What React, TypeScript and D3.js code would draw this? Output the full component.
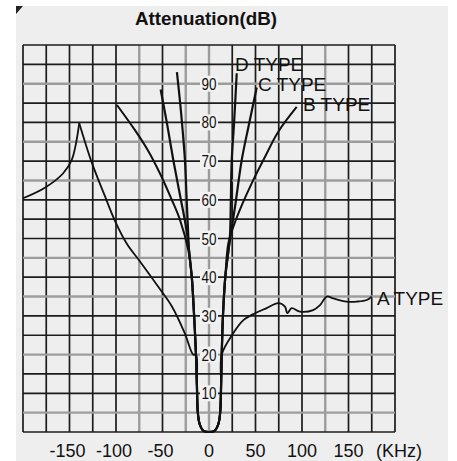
import React, { useEffect, useRef } from "react";
import * as d3 from "d3";

// values: [kHz, dB]
const xTicks = [-150, -100, -50, 0, 50, 100, 150];
const yTicks = [10, 20, 30, 40, 50, 60, 70, 80, 90];

// narrow pass band shared by every type
const passband = [
  [-14, 20], [-13, 12], [-12, 5], [-10, 2], [-6, 0.3], [0, 0],
  [6, 0.3], [10, 2], [12, 5], [13, 12], [13.7, 20],
];
const skirtLeft = [[-18.5, 40], [-16, 30]];
const skirtRight = [[15, 30], [17.5, 40]];

// A type: rise to the spurious peak, then fall into the pass band
const aRise = [[-200, 60.4], [-176, 63.2], [-157, 66.8], [-147.6, 70.3], [-139.5, 79.8]];
const aFall = [
  [-139.5, 79.8], [-126, 69.6], [-112, 61], [-101, 54.5], [-88, 48.5], [-74, 44],
  [-53, 37], [-40, 32.5], [-26, 25.5], [-17, 20],
];
const aRight = [
  [26, 25.5], [37, 28.9], [49.5, 30.7], [62, 32], [74.5, 33.3], [81.7, 32.4],
  [84.2, 30.7], [88.9, 32], [97.8, 31.1], [112, 31.5], [119.4, 32.8],
  [126.6, 35], [133.7, 34.5], [148, 33.7], [158.8, 33.7], [169.6, 34.1], [175, 35],
];
const bLeft = [
  [-99, 84.5], [-79.6, 78], [-65, 72.5], [-52.7, 66.8], [-40, 60],
  [-31.2, 54.8], [-22.3, 47],
];
const bRight = [
  [20.8, 48.8], [26.1, 53], [36, 59], [47.6, 65.1], [60, 71], [74.5, 77.6], [94.3, 84],
];
const cLeft = [[-52, 88.5], [-45, 79.5], [-38.4, 70.3], [-31, 61], [-24, 52], [-21.5, 47]];
const cRight = [[21, 47], [24, 52], [28, 58.2], [35.2, 70.3], [43, 79.5], [51.3, 89]];
const dLeft = [
  [-34.5, 93], [-31, 85], [-28, 77], [-25.8, 70], [-24, 60], [-22.5, 52], [-21.5, 47],
];
const dRight = [[21, 47], [22.6, 51], [23.5, 60], [24.4, 70], [27, 80], [29.8, 92.7]];

const typeLabels = [
  { text: "D TYPE", x: 235, y: 71 },
  { text: "C TYPE", x: 258, y: 91 },
  { text: "B TYPE", x: 303, y: 111 },
  { text: "A TYPE", x: 377, y: 305 },
];

const greyX = [-75, -25, 0, 125];
const greyY = [90, 75, 65, 45, 35, 20, 5];

export default function App() {
  const ref = useRef<SVGSVGElement>(null);

  useEffect(() => {
    const svg = d3.select(ref.current);
    svg.selectAll("*").remove();

    const xScale = d3.scaleLinear().domain([-200, 200]).range([23, 395]);
    const yScale = d3.scaleLinear().domain([0, 100]).range([432, 45]);

    // paper
    svg.append("rect").attr("width", 457).attr("height", 461).attr("fill", "#fff");
    svg.append("rect").attr("x", 16).attr("y", 6).attr("width", 432).attr("height", 455)
      .attr("fill", "#eeeeee");
    svg.append("path").attr("d", "M16,6 L23,6 L16,14 Z").attr("fill", "#222");

    // grid
    const g = svg.append("g");
    g.selectAll("line.vx")
      .data(d3.range(-200, 201, 25))
      .join("line")
      .attr("class", "vx")
      .attr("x1", d => xScale(d)).attr("x2", d => xScale(d))
      .attr("y1", yScale(0)).attr("y2", yScale(100))
      .attr("stroke", d => (greyX.includes(d) ? "#9c9c9c" : "#1c1c1c"))
      .attr("stroke-width", d => (greyX.includes(d) ? 2.4 : 1.7));
    g.selectAll("line.hy")
      .data(d3.range(0, 101, 5))
      .join("line")
      .attr("class", "hy")
      .attr("y1", d => yScale(d)).attr("y2", d => yScale(d))
      .attr("x1", xScale(-200)).attr("x2", xScale(200))
      .attr("stroke", d => (greyY.includes(d) ? "#9c9c9c" : "#1c1c1c"))
      .attr("stroke-width", d => (greyY.includes(d) ? 2.4 : 1.7));

    // curves
    const line = d3.line<number[]>()
      .x(d => xScale(d[0]))
      .y(d => yScale(d[1]))
      .curve(d3.curveCatmullRom.alpha(0.5));

    const series = [
      { pts: aRise, w: 1.8 },
      { pts: [...aFall, ...passband, ...aRight], w: 1.8 },
      { pts: [...bLeft, ...skirtLeft, ...passband, ...skirtRight, ...bRight], w: 2 },
      { pts: [...cLeft, ...skirtLeft, ...passband, ...skirtRight, ...cRight], w: 2.2 },
      { pts: [...dLeft, ...skirtLeft, ...passband, ...skirtRight, ...dRight], w: 2.2 },
    ];
    svg.selectAll("path.curve")
      .data(series)
      .join("path")
      .attr("class", "curve")
      .attr("d", d => line(d.pts))
      .attr("fill", "none")
      .attr("stroke", "#111")
      .attr("stroke-width", d => d.w)
      .attr("stroke-linejoin", "miter");

    // y tick labels sit on the 0 kHz line
    const yl = svg.selectAll("g.ytick")
      .data(yTicks)
      .join("g")
      .attr("class", "ytick")
      .attr("transform", d => `translate(${xScale(0)},${yScale(d)})`);
    yl.append("rect")
      .attr("x", -9).attr("y", -8).attr("width", 18).attr("height", 16)
      .attr("fill", "#f2f2f2");
    yl.append("text")
      .attr("text-anchor", "middle")
      .attr("y", 6)
      .attr("font-family", "'Liberation Sans', Arial, sans-serif")
      .attr("font-size", 16.5)
      .attr("textLength", 15)
      .attr("lengthAdjust", "spacingAndGlyphs")
      .attr("fill", "#111")
      .text(d => d);

    // x tick labels
    svg.selectAll("text.xtick")
      .data(xTicks)
      .join("text")
      .attr("class", "xtick")
      .attr("x", d => xScale(d) - (d < 0 ? 2 : 0))
      .attr("y", 457)
      .attr("text-anchor", "middle")
      .attr("font-family", "'Liberation Sans', Arial, sans-serif")
      .attr("font-size", 18)
      .attr("fill", "#111")
      .text(d => d);
    svg.append("text")
      .attr("x", 399).attr("y", 457)
      .attr("text-anchor", "middle")
      .attr("font-family", "'Liberation Sans', Arial, sans-serif")
      .attr("font-size", 18)
      .attr("fill", "#111")
      .text("(KHz)");

    // title
    svg.append("text")
      .attr("x", 206).attr("y", 25)
      .attr("text-anchor", "middle")
      .attr("font-family", "'Liberation Sans', Arial, sans-serif")
      .attr("font-size", 18)
      .attr("font-weight", "bold")
      .attr("textLength", 142)
      .attr("lengthAdjust", "spacingAndGlyphs")
      .attr("fill", "#111")
      .text("Attenuation(dB)");

    // type labels
    svg.selectAll("text.type")
      .data(typeLabels)
      .join("text")
      .attr("class", "type")
      .attr("x", d => d.x).attr("y", d => d.y)
      .attr("font-family", "'Liberation Sans', Arial, sans-serif")
      .attr("font-size", 19)
      .attr("fill", "#111")
      .text(d => d.text);
  }, []);

  return (
    <svg ref={ref} width={457} height={461}
      style={{ position: "absolute", left: 0, top: 0, display: "block" }} />
  );
}
